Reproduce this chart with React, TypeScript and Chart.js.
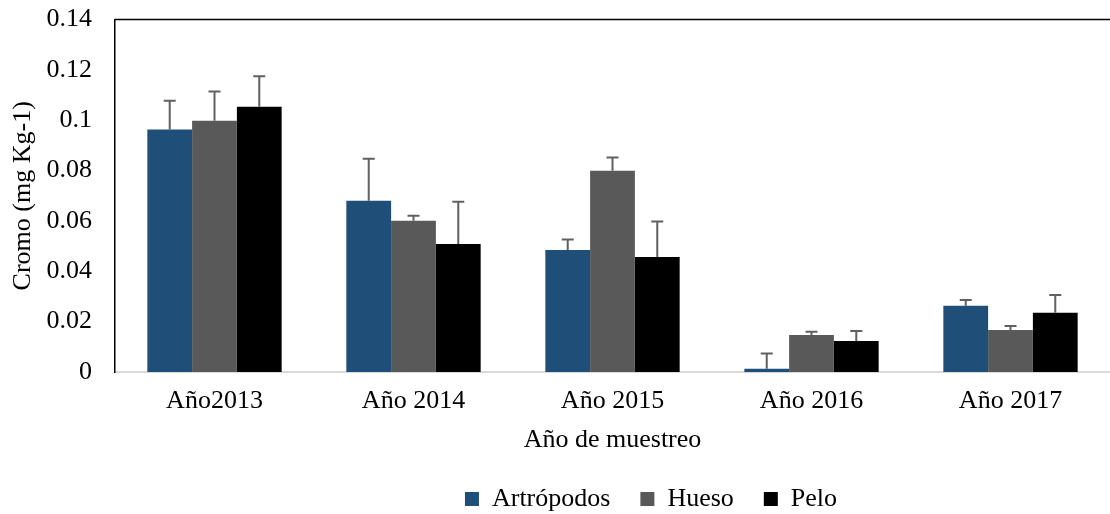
import React, { useEffect, useRef } from "react";
import { Chart, registerables } from "chart.js";

Chart.register(...registerables);

const categories = ["Año2013", "Año 2014", "Año 2015", "Año 2016", "Año 2017"];
const seriesNames = ["Artrópodos", "Hueso", "Pelo"];
const artropodos = [0.0963, 0.068, 0.0485, 0.0013, 0.0263];
const artropodosErr = [0.0115, 0.0167, 0.0041, 0.006, 0.0023];
const hueso = [0.0998, 0.0601, 0.08, 0.0147, 0.0167];
const huesoErr = [0.0116, 0.002, 0.0052, 0.0013, 0.0016];
const pelo = [0.1054, 0.0509, 0.0457, 0.0123, 0.0235];
const peloErr = [0.0121, 0.0167, 0.0141, 0.004, 0.0071];
const yTicks = [0, 0.02, 0.04, 0.06, 0.08, 0.1, 0.12, 0.14];

const colors = ["#1F4E79", "#595959", "#000000"];
const FONT = "'Liberation Serif', 'Times New Roman', serif";

const errorBars = {
  id: "errorBars",
  afterDatasetsDraw(chart: any) {
    const ctx = chart.ctx;
    const yScale = chart.scales.y;
    chart.data.datasets.forEach((ds: any, i: number) => {
      const meta = chart.getDatasetMeta(i);
      meta.data.forEach((el: any, j: number) => {
        const v = ds.data[j];
        const e = ds.errors[j];
        const yTop = yScale.getPixelForValue(v + e);
        ctx.save();
        ctx.strokeStyle = "#606060";
        ctx.lineWidth = 2;
        ctx.beginPath();
        ctx.moveTo(el.x, el.y);
        ctx.lineTo(el.x, yTop);
        ctx.moveTo(el.x - 6, yTop);
        ctx.lineTo(el.x + 6, yTop);
        ctx.stroke();
        ctx.restore();
      });
    });
  },
};

const frame = {
  id: "frame",
  afterDraw(chart: any) {
    const { ctx, chartArea } = chart;
    ctx.save();
    ctx.strokeStyle = "#000000";
    ctx.lineWidth = 1.5;
    ctx.beginPath();
    ctx.moveTo(chartArea.left, chartArea.top);
    ctx.lineTo(chart.width, chartArea.top);
    ctx.stroke();
    ctx.restore();
  },
};

const legendShift = {
  id: "legendShift",
  afterLayout(chart: any) {
    if (chart.legend) {
      chart.legend.left += 92;
      chart.legend.right += 92;
    }
  },
};

export default function App() {
  const ref = useRef<HTMLCanvasElement>(null);
  useEffect(() => {
    const datasets = [artropodos, hueso, pelo].map((d, i) => ({
      label: seriesNames[i],
      data: d,
      errors: [artropodosErr, huesoErr, peloErr][i],
      backgroundColor: colors[i],
      borderWidth: 0,
      categoryPercentage: 0.675,
      barPercentage: 1,
    }));
    const chart = new Chart(ref.current!, {
      type: "bar",
      data: { labels: categories, datasets: datasets as any },
      plugins: [errorBars, frame, legendShift],
      options: {
        animation: false,
        responsive: false,
        maintainAspectRatio: false,
        layout: { padding: { top: 2, left: 8, right: 0, bottom: -8 } },
        plugins: {
          tooltip: { enabled: false },
          legend: {
            position: "bottom",
            labels: {
              color: "#000",
              font: { family: FONT, size: 26, lineHeight: 1.0 },
              boxWidth: 14,
              boxHeight: 14,
              padding: 30,
            },
          },
        },
        scales: {
          x: {
            grid: { display: false, drawTicks: false },
            border: { display: true, color: "#d9d9d9", width: 2 },
            ticks: { color: "#000", font: { family: FONT, size: 26, lineHeight: 1.0 }, padding: 16 },
            title: {
              display: true,
              text: "Año de muestreo",
              color: "#000",
              font: { family: FONT, size: 26, lineHeight: 1.0 },
              padding: { top: -3, bottom: 3 },
            },
          },
          y: {
            min: 0,
            max: 0.14,
            afterBuildTicks(scale: any) {
              scale.ticks = yTicks.map((v) => ({ value: v }));
            },
            afterFit(scale: any) {
              scale.width = 107;
            },
            grid: { display: false, drawTicks: true, tickLength: 19 },
            border: { display: true, color: "#000", width: 1.5 },
            ticks: {
              color: "#000",
              font: { family: FONT, size: 26 },
              padding: 4,
              callback: (v: any) => String(Number(Number(v).toFixed(2))),
            },
            title: {
              display: true,
              text: "Cromo (mg Kg-1)",
              color: "#000",
              font: { family: FONT, size: 26 },
              padding: { top: 0, bottom: 0 },
            },
          },
        },
      } as any,
    });
    return () => chart.destroy();
  }, []);
  return (
    <div style={{ position: "fixed", left: 0, top: 0, width: 1110, height: 514, overflow: "hidden", background: "#fff" }}>
      <canvas ref={ref} width={1110} height={514} style={{ width: 1110, height: 514 }} />
    </div>
  );
}
